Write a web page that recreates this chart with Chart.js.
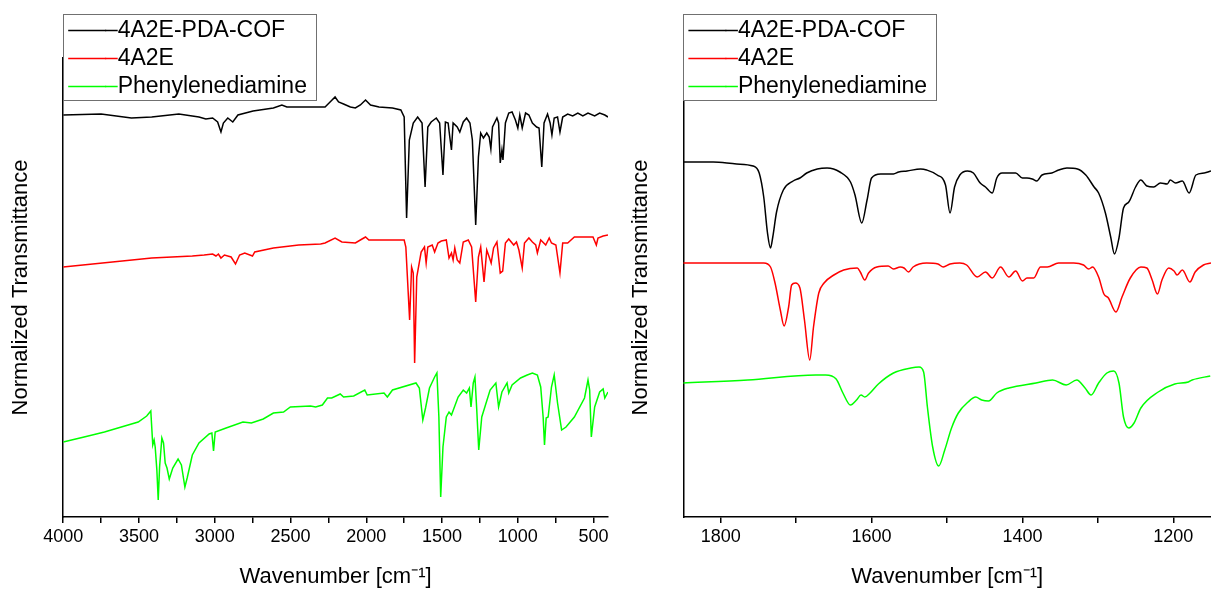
<!DOCTYPE html>
<html>
<head>
<meta charset="utf-8">
<script src="https://cdn.jsdelivr.net/npm/chart.js@4.4.1/dist/chart.umd.min.js"></script>
<style>
    html, body { margin: 0; padding: 0; background: #fff; }
    body { width: 1211px; height: 590px; position: relative; overflow: hidden; }
    .panel { position: absolute; top: 0; height: 590px; }
    #wideBox { left: 0; width: 612px; }
    #zoomBox { left: 620px; width: 591px; }
</style>
</head>
<body>
<div class="panel" id="wideBox"><canvas id="wideChart"></canvas></div>
<div class="panel" id="zoomBox"><canvas id="zoomChart"></canvas></div>
<script>
// [wavenumber, normalized transmittance (offset, arb. units)]
const wideCOF = [
    [4000,4.02],[3750,4.03],[3550,3.99],[3416,4.00],[3237,4.03],[3104,4.00],[3059,3.98],[3014,3.99],
    [2981,3.95],[2959,3.85],[2943,3.94],[2914,3.99],[2881,3.95],[2847,4.02],[2747,4.06],[2613,4.09],
    [2557,4.12],[2524,4.10],[2345,4.10],[2272,4.10],[2239,4.15],[2206,4.20],[2183,4.15],[2150,4.13],
    [2105,4.10],[2072,4.09],[2039,4.12],[2005,4.17],[1972,4.12],[1916,4.10],[1827,4.09],[1772,4.07],
    [1750,4.00],[1734,2.99],[1716,3.77],[1690,3.94],[1661,4.00],[1632,3.94],[1612,3.30],[1594,3.90],
    [1572,3.95],[1538,3.99],[1516,3.94],[1494,3.42],[1478,3.95],[1460,3.94],[1449,3.80],[1438,3.67],
    [1427,3.94],[1400,3.90],[1383,3.85],[1360,3.95],[1338,3.99],[1316,3.94],[1300,3.77],[1278,2.92],
    [1260,3.60],[1245,3.84],[1227,3.79],[1205,3.84],[1189,3.80],[1178,3.68],[1167,3.90],[1138,3.99],
    [1127,3.94],[1116,3.54],[1105,3.67],[1098,3.57],[1082,3.94],[1060,4.04],[1038,4.05],[1016,3.97],
    [1000,3.89],[987,4.02],[971,3.89],[949,4.04],[927,4.02],[904,3.94],[876,3.90],[860,3.89],
    [842,3.50],[827,3.94],[804,4.03],[787,3.94],[775,3.82],[760,3.99],[738,4.00],[722,3.85],
    [704,4.00],[671,4.03],[638,4.01],[604,4.04],[571,4.01],[537,4.04],[493,4.01],[460,4.04],
    [426,4.02],[405,4.00]
];
const wideMonomer = [
    [4000,2.50],[3416,2.59],[3148,2.61],[3070,2.62],[3014,2.63],[2992,2.61],[2976,2.63],[2959,2.59],
    [2936,2.62],[2892,2.60],[2863,2.53],[2836,2.62],[2802,2.64],[2751,2.61],[2736,2.65],[2613,2.69],
    [2446,2.72],[2301,2.73],[2272,2.74],[2206,2.79],[2161,2.75],[2072,2.74],[2028,2.78],[2005,2.80],
    [1983,2.77],[1872,2.77],[1750,2.77],[1739,2.70],[1714,1.97],[1701,2.50],[1690,2.44],[1681,1.54],
    [1667,2.40],[1638,2.65],[1616,2.70],[1605,2.54],[1594,2.70],[1565,2.72],[1549,2.65],[1527,2.74],
    [1505,2.76],[1472,2.77],[1454,2.59],[1438,2.64],[1427,2.57],[1416,2.69],[1400,2.57],[1383,2.54],
    [1360,2.75],[1327,2.77],[1305,2.70],[1278,2.15],[1260,2.60],[1245,2.70],[1223,2.35],[1205,2.67],
    [1189,2.60],[1176,2.54],[1160,2.69],[1138,2.75],[1116,2.44],[1100,2.46],[1082,2.74],[1060,2.78],
    [1027,2.72],[1009,2.75],[993,2.67],[971,2.49],[956,2.74],[927,2.79],[904,2.75],[882,2.72],
    [871,2.64],[849,2.77],[816,2.72],[793,2.79],[778,2.74],[749,2.72],[722,2.44],[704,2.74],
    [671,2.74],[627,2.80],[582,2.80],[537,2.80],[504,2.80],[482,2.72],[471,2.79],[437,2.81],
    [405,2.82]
];
const widePDA = [
    [4000,0.75],[3862,0.80],[3728,0.85],[3594,0.91],[3505,0.95],[3449,1.01],[3422,1.06],[3409,0.72],
    [3400,0.77],[3393,0.70],[3382,0.47],[3373,0.17],[3364,0.50],[3349,0.79],[3338,0.74],[3327,0.54],
    [3315,0.49],[3300,0.38],[3277,0.49],[3242,0.58],[3220,0.52],[3197,0.30],[3182,0.39],[3148,0.62],
    [3104,0.74],[3037,0.83],[3019,0.84],[3008,0.66],[2997,0.85],[2925,0.89],[2814,0.95],[2758,0.94],
    [2680,0.98],[2613,1.04],[2546,1.05],[2501,1.10],[2368,1.11],[2334,1.10],[2290,1.12],[2256,1.19],
    [2228,1.19],[2172,1.23],[2150,1.20],[2083,1.21],[2010,1.27],[1994,1.22],[1883,1.24],[1861,1.20],
    [1827,1.27],[1672,1.34],[1650,1.29],[1627,0.97],[1609,1.09],[1583,1.29],[1549,1.40],[1534,1.44],
    [1521,1.00],[1509,0.20],[1494,0.70],[1472,1.00],[1454,1.05],[1438,1.02],[1394,1.20],[1360,1.27],
    [1338,1.24],[1320,1.29],[1309,1.10],[1294,1.34],[1283,1.40],[1271,1.07],[1258,0.67],[1238,1.00],
    [1183,1.27],[1145,1.34],[1127,1.10],[1105,1.25],[1071,1.34],[1060,1.24],[1038,1.32],[982,1.39],
    [938,1.42],[904,1.44],[871,1.42],[849,1.30],[833,1.00],[824,0.72],[813,0.99],[800,1.00],
    [778,1.30],[760,1.42],[738,1.14],[711,0.87],[682,0.90],[627,1.00],[560,1.19],[537,1.37],
    [526,1.27],[515,0.80],[493,1.10],[460,1.25],[437,1.28],[426,1.19],[405,1.25]
];

const zoomCOF = [
    [1850,3.55],[1810,3.55],[1779,3.53],[1757,3.51],[1749,3.44],[1743,3.20],[1738,2.84],[1734,2.69],
    [1731,2.80],[1726,3.05],[1717,3.27],[1704,3.36],[1695,3.39],[1686,3.44],[1672,3.48],[1659,3.49],
    [1642,3.45],[1628,3.35],[1622,3.22],[1613,2.94],[1606,3.17],[1600,3.39],[1588,3.43],[1571,3.43],
    [1564,3.45],[1553,3.46],[1535,3.48],[1527,3.47],[1513,3.42],[1502,3.32],[1496,3.04],[1490,3.30],
    [1483,3.42],[1473,3.46],[1465,3.44],[1456,3.34],[1449,3.30],[1440,3.24],[1434,3.39],[1427,3.44],
    [1409,3.44],[1400,3.39],[1394,3.39],[1387,3.38],[1381,3.36],[1374,3.42],[1361,3.44],[1352,3.47],
    [1341,3.49],[1327,3.48],[1316,3.42],[1305,3.30],[1299,3.24],[1290,3.04],[1283,2.80],[1278,2.63],
    [1272,2.79],[1266,3.09],[1259,3.15],[1250,3.30],[1243,3.37],[1235,3.31],[1226,3.30],[1217,3.34],
    [1208,3.33],[1204,3.37],[1197,3.34],[1188,3.36],[1179,3.24],[1170,3.42],[1159,3.44],[1150,3.46]
];
const zoomMonomer = [
    [1850,2.54],[1810,2.54],[1777,2.54],[1743,2.54],[1734,2.50],[1728,2.34],[1721,2.07],[1716,1.91],
    [1710,2.10],[1706,2.32],[1701,2.34],[1695,2.29],[1689,1.97],[1682,1.57],[1677,1.90],[1670,2.24],
    [1663,2.34],[1650,2.42],[1637,2.47],[1619,2.49],[1615,2.45],[1609,2.37],[1604,2.44],[1593,2.50],
    [1578,2.51],[1571,2.48],[1562,2.50],[1557,2.49],[1551,2.45],[1545,2.50],[1527,2.54],[1512,2.53],
    [1505,2.50],[1496,2.53],[1483,2.54],[1474,2.52],[1460,2.40],[1449,2.45],[1440,2.39],[1429,2.50],
    [1418,2.40],[1409,2.46],[1400,2.36],[1394,2.39],[1385,2.39],[1376,2.50],[1367,2.50],[1352,2.54],
    [1332,2.54],[1319,2.52],[1312,2.48],[1307,2.50],[1299,2.40],[1292,2.23],[1286,2.19],[1276,2.05],
    [1268,2.20],[1257,2.39],[1243,2.50],[1235,2.49],[1228,2.37],[1221,2.23],[1215,2.37],[1206,2.49],
    [1199,2.46],[1195,2.42],[1188,2.47],[1178,2.35],[1171,2.45],[1160,2.52],[1150,2.54]
];
const zoomPDA = [
    [1850,1.34],[1764,1.37],[1674,1.42],[1661,1.42],[1647,1.38],[1638,1.24],[1628,1.12],[1620,1.17],
    [1614,1.22],[1609,1.20],[1602,1.24],[1591,1.33],[1571,1.44],[1548,1.49],[1537,1.50],[1531,1.45],
    [1526,1.10],[1519,0.70],[1511,0.51],[1503,0.67],[1494,0.89],[1485,1.04],[1472,1.15],[1462,1.20],
    [1454,1.17],[1445,1.16],[1434,1.24],[1418,1.29],[1382,1.34],[1360,1.37],[1342,1.32],[1328,1.37],
    [1317,1.29],[1309,1.22],[1299,1.34],[1288,1.44],[1279,1.46],[1272,1.34],[1266,1.00],[1259,0.89],
    [1252,0.94],[1243,1.09],[1220,1.25],[1198,1.33],[1180,1.35],[1175,1.37],[1151,1.41]
];

const seriesNames = ["4A2E-PDA-COF", "4A2E", "Phenylenediamine"];
const seriesColors = ["#000000", "#ff0000", "#00ff00"];

// tick marks (every one) and the ones that carry a label
const wideTickValues = [4000, 3750, 3500, 3250, 3000, 2750, 2500, 2250, 2000, 1750, 1500, 1250, 1000, 750, 500];
const wideTickLabels = [4000, 3500, 3000, 2500, 2000, 1500, 1000, 500];
const zoomTickValues = [1800, 1700, 1600, 1500, 1400, 1300, 1200];
const zoomTickLabels = [1800, 1600, 1400, 1200];

const FONT = "'Liberation Sans', Arial, sans-serif";
const LEGEND_SIZE = 23;
const LEGEND_PAD = 5;
const LEGEND_LINE = 38;
const LEGEND_TOP = 14;

Chart.defaults.font.family = FONT;
Chart.defaults.color = "#000";

// legend sits in the upper-left corner with a thin grey frame,
// sample lines run right up to the text like in the original
const legendFrame = {
    id: "legendFrame",
    afterLayout(chart) {
        chart.legend.top = LEGEND_TOP;
    },
    beforeDatasetsDraw(chart) {
        const legend = chart.legend;
        const ctx = chart.ctx;
        ctx.save();
        ctx.font = LEGEND_SIZE + "px " + FONT;
        const textW = Math.max(...seriesNames.map(n => ctx.measureText(n).width));
        const left = legend.left;
        const top = legend.top;
        const w = LEGEND_PAD + LEGEND_LINE + LEGEND_SIZE / 2 + textW + 9;
        const h = LEGEND_PAD + seriesNames.length * (LEGEND_SIZE + LEGEND_PAD) - LEGEND_PAD + 2;
        ctx.fillStyle = "#fff";
        ctx.fillRect(left, top, w, h);
        ctx.strokeStyle = "#707070";
        ctx.lineWidth = 1;
        ctx.strokeRect(Math.round(left) + 0.5, Math.round(top) + 0.5, Math.round(w), Math.round(h));
        ctx.restore();
        legend.draw();

        ctx.save();
        ctx.lineWidth = 1.5;
        seriesColors.forEach((c, i) => {
            const y = top + LEGEND_PAD + i * (LEGEND_SIZE + LEGEND_PAD) + LEGEND_SIZE / 2;
            const x0 = left + LEGEND_PAD + LEGEND_LINE;
            ctx.strokeStyle = c;
            ctx.beginPath();
            ctx.moveTo(x0 - 1, y);
            ctx.lineTo(x0 + LEGEND_SIZE / 2, y);
            ctx.stroke();
        });
        ctx.restore();
    }
};

function makeChart(canvasId, sets, xMin, xMax, tickValues, tickLabels, axisWidth, padRight, smooth) {
    return new Chart(document.getElementById(canvasId), {
        type: "line",
        data: {
            datasets: sets.map((points, i) => ({
                label: seriesNames[i],
                data: points.map(p => ({ x: p[0], y: p[1] })),
                borderColor: seriesColors[i],
                backgroundColor: seriesColors[i],
                borderWidth: 1.5,
                pointRadius: 0,
                tension: 0,
                cubicInterpolationMode: smooth ? "monotone" : "default"
            }))
        },
        options: {
            responsive: true,
            maintainAspectRatio: false,
            animation: false,
            events: [],
            layout: { padding: { top: 58, right: padRight, left: 0, bottom: 0 } },
            plugins: {
                legend: {
                    position: "chartArea",
                    align: "start",
                    labels: {
                        boxWidth: LEGEND_LINE,
                        boxHeight: 0,
                        padding: LEGEND_PAD,
                        color: "#000",
                        font: { size: LEGEND_SIZE }
                    }
                },
                tooltip: { enabled: false }
            },
            scales: {
                x: {
                    type: "linear",
                    reverse: true,
                    min: xMin,
                    max: xMax,
                    afterBuildTicks: scale => { scale.ticks = tickValues.map(v => ({ value: v })); },
                    afterFit: scale => { scale.height = 73; },
                    border: { display: true, color: "#000", width: 1.5 },
                    grid: { drawOnChartArea: false, drawTicks: true, tickLength: 6, color: "#000", lineWidth: 1.5 },
                    ticks: {
                        autoSkip: false,
                        maxRotation: 0,
                        padding: 3,
                        color: "#000",
                        font: { size: 18 },
                        callback: v => tickLabels.includes(v) ? String(v) : ""
                    },
                    title: {
                        display: true,
                        text: "Wavenumber [cm\u207B\u00B9]",
                        color: "#000",
                        font: { size: 22 },
                        padding: { top: 0, bottom: 0 }
                    }
                },
                y: {
                    min: 0,
                    max: 4.59,
                    afterFit: scale => { scale.width = axisWidth; },
                    border: { display: true, color: "#000", width: 1.5 },
                    grid: { display: false },
                    ticks: { display: false },
                    title: {
                        display: true,
                        text: "Normalized Transmittance",
                        color: "#000",
                        font: { size: 22 },
                        padding: { top: 8, bottom: 0 }
                    }
                }
            }
        },
        plugins: [legendFrame]
    });
}

makeChart("wideChart", [wideCOF, wideMonomer, widePDA], 405, 4000, wideTickValues, wideTickLabels, 63.2, 4, false);
makeChart("zoomChart", [zoomCOF, zoomMonomer, zoomPDA], 1150, 1849.5, zoomTickValues, zoomTickLabels, 63.4, 0, true);
</script>
</body>
</html>
